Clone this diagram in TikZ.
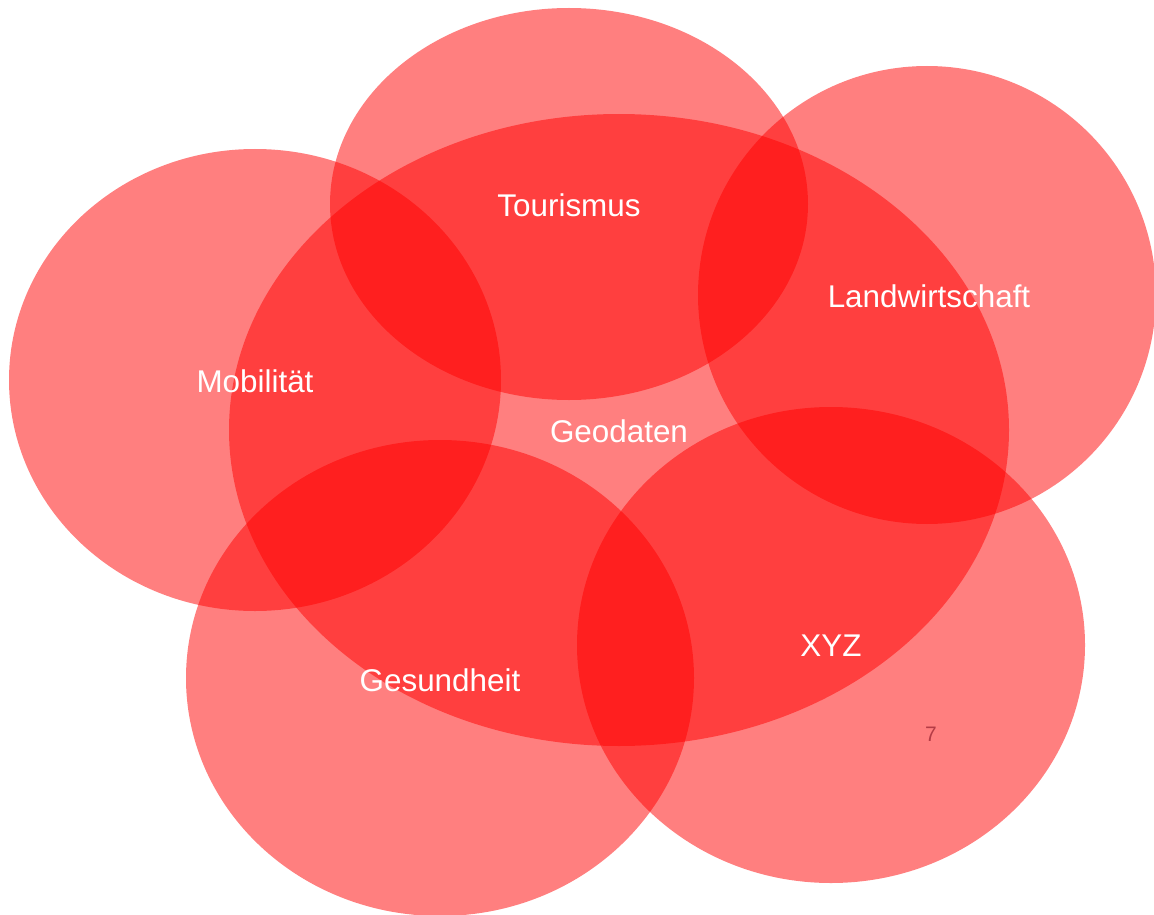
\documentclass[tikz,border=0pt]{standalone}
\usepackage{fontspec}
\setmainfont{Liberation Sans}
\begin{document}
\begin{tikzpicture}[x=1pt,y=-1pt,
  blob/.style={fill=red,fill opacity=0.5,draw=none},
  lbl/.style={text=white,font=\fontsize{31.4}{36}\selectfont,inner sep=0pt}]
\useasboundingbox (0,0) rectangle (1154,915);
\fill[blob] (619,430) ellipse [x radius=390,y radius=316];
\fill[blob] (569,204) ellipse [x radius=239,y radius=196];
\fill[blob] (927,295) ellipse [x radius=229,y radius=229];
\fill[blob] (255,380) ellipse [x radius=246,y radius=231];
\fill[blob] (440,678) ellipse [x radius=254,y radius=238];
\fill[blob] (831,645) ellipse [x radius=254,y radius=238];
\node[lbl] (geo) at (619,431) {Geodaten};
\node[lbl] (tour) at (569,205) {Tourismus};
\node[lbl] (land) at (929,296) {Landwirtschaft};
\node[lbl] (mob) at (255,381) {Mobilität};
\node[lbl] (ges) at (440,680) {Gesundheit};
\node[lbl] (xyz) at (831,646) {XYZ};
\node[text={rgb,255:red,180;green,60;blue,70},font=\fontsize{21}{24}\selectfont,inner sep=0pt] (num) at (931,734) {7};
\end{tikzpicture}
\end{document}
